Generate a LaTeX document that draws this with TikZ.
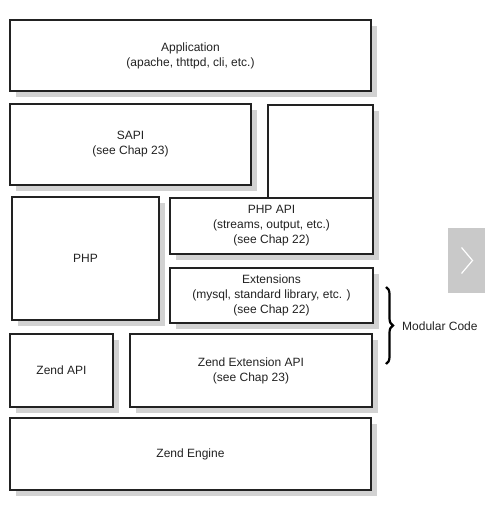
\documentclass[tikz,border=0pt]{standalone}
\usepackage{fontspec}
\setmainfont{Liberation Sans}
\usetikzlibrary{shadows,decorations.pathreplacing,calc}
\definecolor{ink}{HTML}{222222}
\definecolor{shade}{HTML}{D2D2D2}
\definecolor{navgray}{HTML}{C9C9C9}
\tikzset{layer/.style={draw=ink,line width=1.3pt,fill=white,inner sep=0pt,outer sep=0pt,align=center,text=ink,font=\fontsize{12}{15}\selectfont,drop shadow={shadow xshift=6pt,shadow yshift=-6pt,fill=shade,opacity=1}},brace/.style={decorate,decoration={brace,amplitude=7pt},line width=2.2pt,draw=black},lab/.style={font=\fontsize{12}{15}\selectfont,text=ink,inner sep=0pt}}

\begin{document}
\begin{tikzpicture}[x=1pt,y=-1pt]
\useasboundingbox (0,0) rectangle (500,516);
\node[layer,minimum width=361pt,minimum height=71pt] (app) at (190.5,55.5) {Application\\(apache, thttpd, cli, etc.)};
\node[layer,minimum width=241pt,minimum height=81pt] (sapi) at (130.5,144.5) {SAPI\\(see Chap 23)};
\node[layer,minimum width=105pt,minimum height=93pt] (blank) at (320.5,151.5) {};
\node[layer,minimum width=147pt,minimum height=123pt] (php) at (85.5,258.5) {PHP};
\node[layer,minimum width=203pt,minimum height=56pt] (phpapi) at (271.5,226) {PHP API\\(streams, output, etc.)\\(see Chap 22)};
\node[layer,minimum width=203pt,minimum height=55pt] (ext) at (271.5,295.5) {Extensions\\(mysql, standard library, etc. )\\(see Chap 22)};
\node[layer,minimum width=103pt,minimum height=73pt] (zapi) at (61.5,370.5) {Zend API};
\node[layer,minimum width=242pt,minimum height=73pt] (zext) at (251,370.5) {Zend Extension API\\(see Chap 23)};
\node[layer,minimum width=361pt,minimum height=72pt] (engine) at (190.5,454) {Zend Engine};
% brace for the modular part
\coordinate (btop) at (386,287);
\coordinate (bbot) at (386,364);
\draw[brace] (btop) -- (bbot);
\node[lab,anchor=west] (modular) at (402,326) {Modular Code};
% next button
\node[fill=navgray,minimum width=37pt,minimum height=65pt,inner sep=0pt] (next) at (466.5,260.5) {};
\draw[white,line width=1.2pt] ($(next.center)+(-5,-13)$) -- ($(next.center)+(6,0)$) -- ($(next.center)+(-5,13)$);
\end{tikzpicture}
\end{document}
